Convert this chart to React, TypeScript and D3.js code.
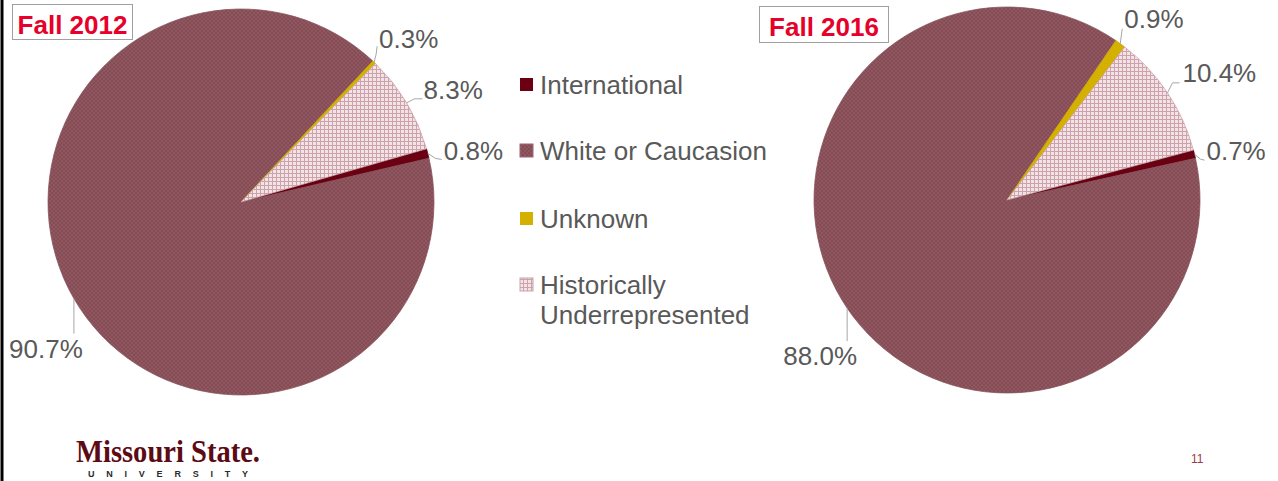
import React from "react";
import * as d3 from "d3";

const categories = ["International", "White or Caucasion", "Unknown", "Historically Underrepresented"];
const values2012 = [0.8, 90.7, 0.3, 8.3];
const values2016 = [0.7, 88.0, 0.9, 10.4];
const titles = ["Fall 2012", "Fall 2016"];
const legendLines = [["International"], ["White or Caucasion"], ["Unknown"], ["Historically", "Underrepresented"]];

const FILLS = ["#6A0012", "url(#patWhite)", "#D4B000", "url(#patHU)"];
const STROKES = ["#5a0010", "#86505a", "#c9a500", "#c9a3aa"];

type LabelCfg = { elbow: [number, number]; end: [number, number]; text: [number, number]; anchor: string };

const labelCfg2012: LabelCfg[] = [
  { elbow: [8, 5], end: [14, 6], text: [16, 7], anchor: "start" },
  { elbow: [0, 20], end: [0, 35], text: [-28, 59], anchor: "middle" },
  { elbow: [2, -8], end: [3, -16], text: [5, -14], anchor: "start" },
  { elbow: [8, -4], end: [16, -4], text: [17, -4], anchor: "start" },
];
const labelCfg2016: LabelCfg[] = [
  { elbow: [6, 5], end: [10, 6], text: [12, 6], anchor: "start" },
  { elbow: [0, 20], end: [0, 33], text: [-27, 57], anchor: "middle" },
  { elbow: [1, -8], end: [2, -15], text: [4, -16], anchor: "start" },
  { elbow: [5, -10], end: [12, -10], text: [15, -11], anchor: "start" },
];

const FONT = "'Liberation Sans', Arial, sans-serif";

function Pie({ values, cx, cy, r, startDeg, cfg }: { values: number[]; cx: number; cy: number; r: number; startDeg: number; cfg: LabelCfg[] }) {
  const s = (startDeg * Math.PI) / 180;
  const pie = d3.pie<number>().sort(null).value((d) => d).startAngle(s).endAngle(s + 2 * Math.PI);
  const arcs = pie(values);
  const arc = d3.arc<d3.PieArcDatum<number>>().innerRadius(0).outerRadius(r);
  return (
    <g transform={`translate(${cx},${cy})`}>
      {arcs.map((a, i) => (
        <path key={i} d={arc(a) || ""} fill={FILLS[i]} stroke={STROKES[i]} strokeWidth={0.75} />
      ))}
      {arcs.map((a, i) => {
        const mid = (a.startAngle + a.endAngle) / 2;
        const ex = r * Math.sin(mid);
        const ey = -r * Math.cos(mid);
        const c = cfg[i];
        const pts = [
          [ex, ey],
          [ex + c.elbow[0], ey + c.elbow[1]],
          [ex + c.end[0], ey + c.end[1]],
        ];
        return (
          <g key={"l" + i}>
            <polyline points={pts.map((p) => p.join(",")).join(" ")} fill="none" stroke="#a6a6a6" strokeWidth={1} />
            <text x={ex + c.text[0]} y={ey + c.text[1]} textAnchor={c.anchor} fontFamily={FONT} fontSize={26} fill="#595959">
              {values[i].toFixed(1) + "%"}
            </text>
          </g>
        );
      })}
    </g>
  );
}

function TitleBox({ x, y, w, h, text }: { x: number; y: number; w: number; h: number; text: string }) {
  return (
    <g>
      <rect x={x} y={y} width={w} height={h} fill="#fff" stroke="#a0a0a0" strokeWidth={1} />
      <text x={x + w / 2} y={y + 29} textAnchor="middle" fontFamily={FONT} fontWeight="bold" fontSize={26} fill="#E6002A">
        {text}
      </text>
    </g>
  );
}

export default function App() {
  const legendY = [85, 151, 219, 285];
  return (
    <svg width={1278} height={481} style={{ position: "absolute", left: 0, top: 0, background: "#fff" }}>
      <defs>
        <pattern id="patWhite" width={4} height={4} patternUnits="userSpaceOnUse">
          <rect width={4} height={4} fill="#8F5861" />
          <rect x={0} y={0} width={2} height={2} fill="#864c56" />
          <rect x={2} y={2} width={2} height={2} fill="#864c56" />
        </pattern>
        <pattern id="patHU" width={4} height={4} patternUnits="userSpaceOnUse">
          <rect width={4} height={4} fill="#CDA2AA" />
          <rect x={0} y={0} width={3} height={3} fill="#F1E3E6" />
        </pattern>
      </defs>
      <rect x={0.5} y={0} width={3} height={481} fill="#000" />

      <Pie values={values2012} cx={241} cy={202} r={193} startDeg={74} cfg={labelCfg2012} />
      <Pie values={values2016} cx={1007} cy={200} r={193} startDeg={75} cfg={labelCfg2016} />

      <TitleBox x={12.5} y={4.5} w={120} h={35} text={titles[0]} />
      <TitleBox x={759.5} y={6.5} w={129} h={36} text={titles[1]} />

      {categories.map((c, i) => (
        <g key={c}>
          <rect x={520} y={legendY[i] - 7} width={13} height={13} fill={FILLS[i]} stroke={i === 1 ? "#9a6670" : i === 3 ? "#c9a3aa" : "none"} strokeWidth={1} />
          {legendLines[i].map((ln, j) => (
            <text key={j} x={540} y={legendY[i] + 9 + j * 30} fontFamily={FONT} fontSize={26} fill="#595959">
              {ln}
            </text>
          ))}
        </g>
      ))}

      <text x={76} y={462} fontFamily="'Liberation Serif', 'Times New Roman', serif" fontWeight="bold" fontSize={31} fill="#5C0A14" textLength={184} lengthAdjust="spacingAndGlyphs">
        Missouri State.
      </text>
      <text x={88} y={477} fontFamily={FONT} fontWeight="900" fontSize={9} fill="#2a2a2a" textLength={160} lengthAdjust="spacing">
        UNIVERSITY
      </text>
      <text x={1191} y={463} fontFamily={FONT} fontSize={12} fill="#9B3A4A">
        11
      </text>
    </svg>
  );
}
